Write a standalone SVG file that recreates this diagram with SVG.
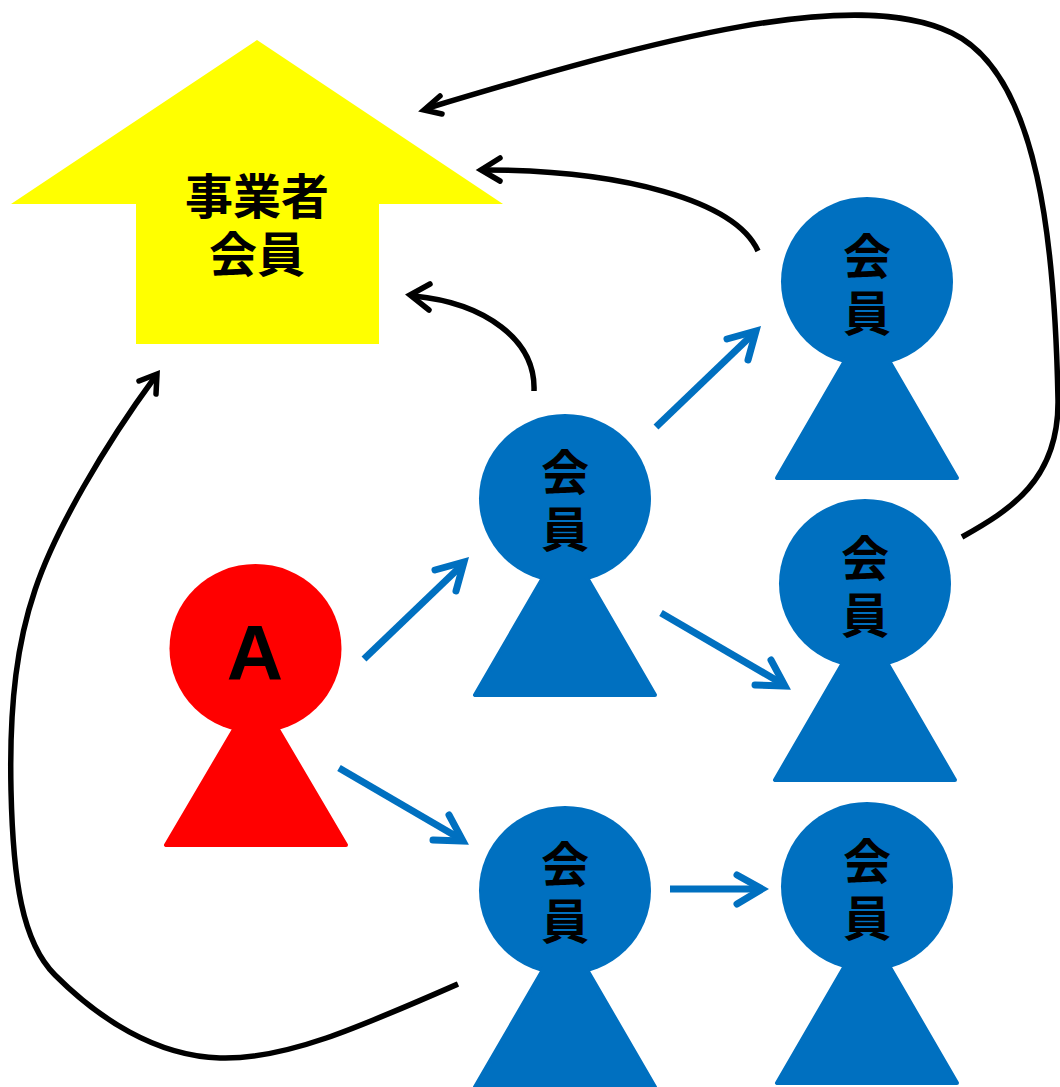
<svg xmlns="http://www.w3.org/2000/svg" width="1060" height="1087" viewBox="0 0 1060 1087">
<style>
.t{font-family:"Noto Sans CJK JP","Liberation Sans",sans-serif;font-weight:700;font-size:48px;text-anchor:middle;fill:#000}
.bl{fill:#0070C0;stroke:#0070C0;stroke-width:4;stroke-linejoin:round}
.rd{fill:#FF0000;stroke:#FF0000;stroke-width:4;stroke-linejoin:round}
.k{fill:none;stroke:#000;stroke-width:5.500}
.kh{fill:none;stroke:#000;stroke-width:5.500;stroke-linecap:round;stroke-linejoin:miter}
.b{fill:none;stroke:#0070C0;stroke-width:7}
.bh{fill:none;stroke:#0070C0;stroke-width:7;stroke-linecap:round;stroke-linejoin:miter}
</style>
<rect width="1060" height="1087" fill="#fff"/>
<g id="house"><path d="M257 40L503 204H379V344H136V204H11Z" fill="#FFFF00"/><text class="t"><tspan x="257" y="214">事業者</tspan><tspan x="257" y="272">会員</tspan></text></g>
<g id="nodeA"><ellipse cx="255.500" cy="648.500" rx="86" ry="84.500" fill="#FF0000"/><path class="rd" d="M236 726L166 845H346L276 726Z"/><text x="255" y="680" font-family="Liberation Sans,sans-serif" font-weight="700" font-size="78" text-anchor="middle">A</text></g>
<g id="m1"><ellipse cx="565" cy="498.500" rx="86" ry="84.500" fill="#0070C0"/><path class="bl" d="M544 576L475 695H655L586 576Z"/><text class="t"><tspan x="565" y="490">会</tspan><tspan x="565" y="547">員</tspan></text></g>
<g id="m2"><ellipse cx="867" cy="281.500" rx="86" ry="84.500" fill="#0070C0"/><path class="bl" d="M846 359L777 478H957L888 359Z"/><text class="t"><tspan x="867" y="274">会</tspan><tspan x="867" y="331">員</tspan></text></g>
<g id="m3"><ellipse cx="865" cy="583.500" rx="86" ry="84.500" fill="#0070C0"/><path class="bl" d="M844 661L775 780H955L886 661Z"/><text class="t"><tspan x="865" y="576">会</tspan><tspan x="865" y="633">員</tspan></text></g>
<g id="m4"><ellipse cx="565" cy="890.500" rx="86" ry="84.500" fill="#0070C0"/><path class="bl" d="M544 968L475 1087H655L586 968Z"/><text class="t"><tspan x="565" y="882">会</tspan><tspan x="565" y="939">員</tspan></text></g>
<g id="m5"><ellipse cx="867" cy="886.500" rx="86" ry="84.500" fill="#0070C0"/><path class="bl" d="M846 964L777 1083H957L888 964Z"/><text class="t"><tspan x="867" y="879">会</tspan><tspan x="867" y="936">員</tspan></text></g>
<g id="connectors">
<path class="b" d="M364 659L461 566"/><path class="bh" d="M435 570L464 562L456 591"/>
<path class="b" d="M339 768L459 838"/><path class="bh" d="M449 815L463 841L433 840"/>
<path class="b" d="M656 427L753 334"/><path class="bh" d="M727 339L756 331L748 360"/>
<path class="b" d="M661 613L781 683"/><path class="bh" d="M771 660L785 686L755 685"/>
<path class="b" d="M670 889H760"/><path class="bh" d="M737 875L762 889L737 904"/>
<path class="k" d="M534 391C536 340 485 303 414 296"/><path class="kh" d="M430 284L410 295L429 310"/>
<path class="k" d="M758 251C735 200 620 170 484 170"/><path class="kh" d="M500 158L481 170L500 181"/>
<path class="k" d="M962 537C1010 510 1059 480 1058 400C1055 250 1040 75 952 33C855 -14 660 38 428 108"/><path class="kh" d="M440 96L424 110L442 114"/>
<path class="k" d="M458 984C360 1027 285 1060 220 1058C155 1056 98 1018 55 975C22 942 13 880 11 790C9 700 18 640 35 590C55 530 105 445 155 377"/><path class="kh" d="M139 381L157 374L156 394"/>
</g>
</svg>
